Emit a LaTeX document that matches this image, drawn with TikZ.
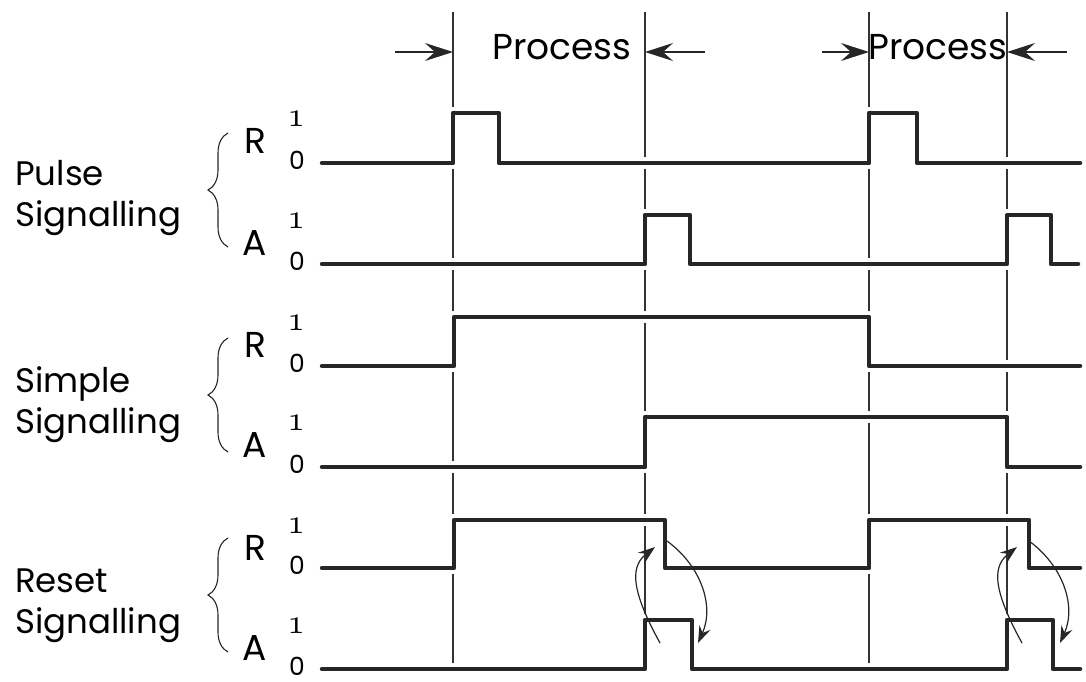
\documentclass[tikz,border=0pt]{standalone}
\usepackage{fontspec}
\newfontfamily\labfont{Poppins}
\newcommand{\oldone}{\scalebox{3.5}{$\mathnormal{1}$}}
\usetikzlibrary{arrows.meta,decorations.pathreplacing}
\begin{document}
\begin{tikzpicture}[x=1pt,y=-1pt,
  sig/.style={line width=4.5pt, line join=round, line cap=round, black!85,
    preaction={draw=white, line width=12pt}},
  guide/.style={line width=1.1pt, black!80},
  harrow/.style={line width=1.4pt, black!85, -{Stealth[length=28pt,width=18pt,inset=10pt]}},
  carrow/.style={line width=1.2pt, black!85, -{Stealth[length=17pt,width=12pt,inset=6pt]}},
  bracestyle/.style={line width=1.1pt, black!85, decorate, decoration={brace, amplitude=20pt}},
  lbl/.style={font=\labfont\fontsize{34}{36}\selectfont, inner sep=0pt, anchor=base west},
  proc/.style={font=\labfont\fontsize{36}{38}\selectfont, inner sep=0pt, anchor=base},
  ra/.style={font=\labfont\fontsize{36}{38}\selectfont, inner sep=0pt},
  one/.style={font=\normalsize, inner sep=0pt},
  zero/.style={font=\labfont\fontsize{25}{27}\selectfont, inner sep=0pt}
]
\useasboundingbox (0,0) rectangle (1086,682);

% guide lines
\foreach \gx/\gn in {453/ga, 645/gb, 869/gc, 1007/gd}{
  \coordinate (\gn top) at (\gx,12);
  \coordinate (\gn bot) at (\gx,667);
  \draw[guide] (\gn top) -- (\gn bot);
}

% top arrows and Process labels
\coordinate (a1) at (395,52);
\coordinate (a2) at (705,52);
\coordinate (a3) at (822,52);
\coordinate (a4) at (1067,52);
\draw[harrow] (a1) -- (a1 -| gatop);
\draw[harrow] (a2) -- (a2 -| gbtop);
\draw[harrow] (a3) -- (a3 -| gctop);
\draw[harrow] (a4) -- (a4 -| gdtop);
\node[proc] (proc1) at (562,60) {Process};
\node[proc] (proc2) at (938,60) {Process};

% group labels
\node[lbl] (pulse) at (15,185) {Pulse};
\node[lbl] (pulsesig) at (15,226) {Signalling};
\node[lbl] (simple) at (15,392) {Simple};
\node[lbl] (simplesig) at (15,433) {Signalling};
\node[lbl] (reset) at (15,592) {Reset};
\node[lbl] (resetsig) at (15,633) {Signalling};

% braces
\draw[bracestyle] (228,247) -- (228,133);
\draw[bracestyle] (228,452) -- (228,338);
\draw[bracestyle] (228,652) -- (228,538);

% R / A labels and levels
\foreach \hi/\lo/\ch/\nm in {113/163/R/pr, 215/264/A/pa, 317/366/R/sr, 417/467/A/sa, 520/568/R/rr, 620/669/A/ra}{
  \node[ra] (\nm lab) at (255,\hi+28) {\ch};
  \node[one] (\nm one) at (296,\hi+6) {\oldone};
  \node[zero] (\nm zero) at (297,\lo-3) {0};
}

% signals
\draw[sig] (322,163) -- (453,163) -- (453,113) -- (499,113) -- (499,163) -- (869,163) -- (869,113) -- (917,113) -- (917,163) -- (1080,163);
\draw[sig] (322,264) -- (645,264) -- (645,215) -- (690,215) -- (690,264) -- (1007,264) -- (1007,215) -- (1051,215) -- (1051,264) -- (1078,264);
\draw[sig] (322,366) -- (454,366) -- (454,317) -- (869,317) -- (869,366) -- (1080,366);
\draw[sig] (322,467) -- (645,467) -- (645,417) -- (1007,417) -- (1007,467) -- (1080,467);
\draw[sig] (322,568) -- (454,568) -- (454,520) -- (665,520) -- (665,568) -- (869,568) -- (869,520) -- (1029,520) -- (1029,568) -- (1080,568);
\draw[sig] (322,669) -- (645,669) -- (645,620) -- (692,620) -- (692,669) -- (1007,669) -- (1007,620) -- (1053,620) -- (1053,669) -- (1080,669);

% handshake arrows
\foreach \dx/\nm in {0/p, 362/q}{
  \coordinate (\nm s1) at (660+\dx,643);
  \coordinate (\nm e1) at (655+\dx,547);
  \coordinate (\nm s2) at (667+\dx,541);
  \coordinate (\nm e2) at (698+\dx,643);
  \draw[carrow] (\nm s1) .. controls (628+\dx,585) and (632+\dx,565) .. (\nm e1);
  \draw[carrow] (\nm s2) .. controls (700+\dx,565) and (715+\dx,605) .. (\nm e2);
}
\end{tikzpicture}
\end{document}
